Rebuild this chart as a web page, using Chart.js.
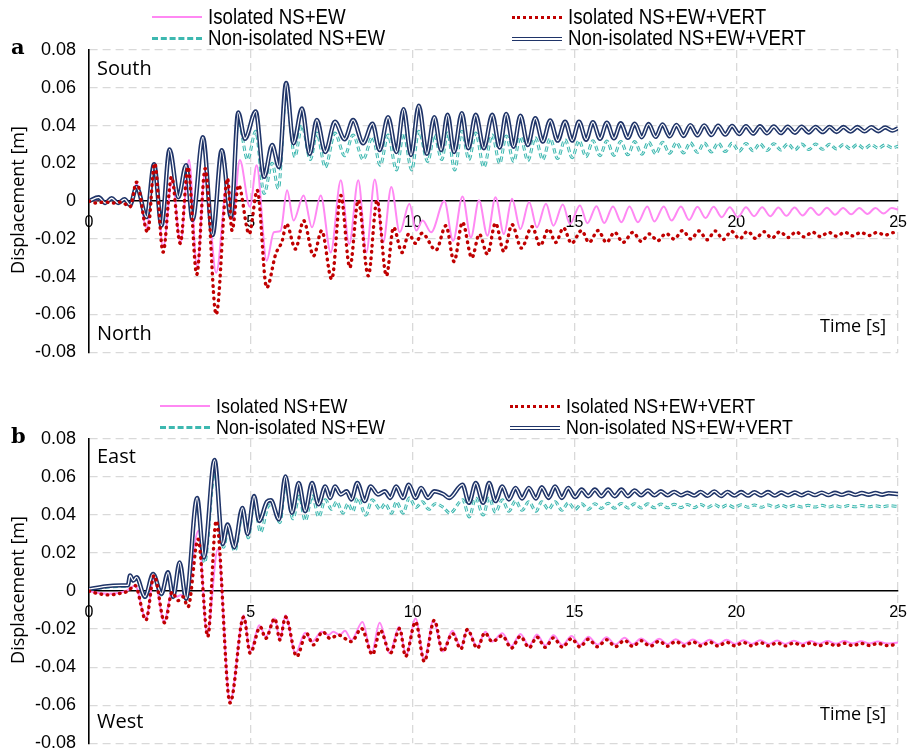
<!DOCTYPE html>
<html>
<head>
<meta charset="utf-8">
<script src="https://cdn.jsdelivr.net/npm/chart.js@4.4.1/dist/chart.umd.min.js"></script>
<style>
  body { margin: 0; background: #fff; }
  #page { position: relative; width: 919px; height: 751px; overflow: hidden; font-family: "Liberation Sans", Arial, sans-serif; }
  canvas { position: absolute; left: 0; }
  .txt { position: absolute; white-space: nowrap; color: #000; }
  .leg { position: absolute; white-space: nowrap; font-size: 22px; transform: scaleX(0.85); transform-origin: left center; line-height: 22px; }
  .swatch { position: absolute; width: 50px; height: 0; }
  .corner { font-family: "Open Sans", sans-serif; font-size: 20px; }
  .letter { font-family: "DejaVu Serif", serif; font-weight: bold; font-size: 21px; }
  .ytitle { font-family: "Open Sans", sans-serif; font-size: 18px; transform: rotate(-90deg); transform-origin: center; width: 180px; text-align: center; }
</style>
</head>
<body>
<div id="page">
  <canvas id="chartA" width="919" height="376" style="top:0"></canvas>
  <canvas id="chartB" width="919" height="387" style="top:380px"></canvas>

  <div class="txt letter" style="left:11px;top:34px">a</div>
  <div class="txt letter" style="left:11px;top:423px">b</div>

  <div class="txt ytitle" style="left:-73px;top:188px">Displacement [m]</div>
  <div class="txt ytitle" style="left:-73px;top:578px">Displacement [m]</div>

  <div class="txt corner" style="left:97px;top:54px">South</div>
  <div class="txt corner" style="left:97px;top:319px">North</div>
  <div class="txt corner" style="left:820px;top:313px;font-size:18px">Time [s]</div>
  <div class="txt corner" style="left:97px;top:442px">East</div>
  <div class="txt corner" style="left:97px;top:707px">West</div>
  <div class="txt corner" style="left:820px;top:701px;font-size:18px">Time [s]</div>

  <div id="legendA"></div>
  <div id="legendB"></div>
</div>

<script>
// series names (legend order)
const seriesNames = ['Isolated NS+EW', 'Isolated NS+EW+VERT', 'Non-isolated NS+EW', 'Non-isolated NS+EW+VERT'];

// axis ticks
const xTicks = [0, 5, 10, 15, 20, 25];
const yTicks = [-0.08, -0.06, -0.04, -0.02, 0, 0.02, 0.04, 0.06, 0.08];

// ---- panel a : [time s, displacement m] ----
const aIsoEW = [
  [0,0],[0.3,0.001],[0.5,-0.001],[0.7,0.001],[0.9,-0.001],[1.1,0.0005],[1.27,-0.002],[1.47,0.009],[1.78,-0.014],
  [2.03,0.02],[2.29,-0.0245],[2.57,0.011],[2.83,-0.022],[3.09,0.0217],[3.34,-0.035],[3.59,0.016],[3.93,-0.038],
  [4.28,0.011],[4.44,-0.01],[4.66,0.0217],[4.97,-0.003],[5.18,0.019],[5.49,-0.0316],[5.71,-0.0165],[5.92,-0.0157],
  [6.12,0.0057],[6.32,-0.0103],[6.63,0.003],[6.89,-0.0139],[7.16,0.003],[7.47,-0.0272],[7.78,0.011],[8.04,-0.0228],
  [8.32,0.011],[8.57,-0.0272],[8.83,0.0114],[9.09,-0.0219],[9.34,0.0075],[9.6,-0.0165],[9.9,-0.0014],[10.11,-0.0156],
  [10.31,-0.0103],[10.57,-0.0165],[10.98,0.0],[11.25,-0.021],[11.54,0.0025],[11.8,-0.0192],[12.05,0.0004],[12.31,-0.0183],
  [12.56,0.0021],[12.82,-0.0174],[13.07,0.0012],[13.33,-0.0148],[13.6,-0.0005],[13.84,-0.0139],[14.12,-0.0014],[14.35,-0.013],
  [14.64,-0.0018],[14.86,-0.0121],[15.17,-0.0023],[15.4,-0.0117],[15.68,-0.0027],[15.92,-0.0116],[16.19,-0.0028],[16.45,-0.0112],
  [16.7,-0.0028],[16.96,-0.0112],[17.25,-0.0028],[17.47,-0.0108],[17.76,-0.0028],[18.0,-0.0103],[18.29,-0.0028],[18.54,-0.01],
  [18.8,-0.003],[19.05,-0.009],[19.3,-0.003],[19.55,-0.0085],[19.8,-0.0032],[20.05,-0.0085],[20.3,-0.0033],[20.55,-0.008],
  [20.8,-0.0033],[21.05,-0.008],[21.3,-0.0034],[21.55,-0.0078],[21.8,-0.0034],[22.05,-0.0076],[22.3,-0.0035],[22.55,-0.0074],
  [22.8,-0.0035],[23.05,-0.0072],[23.3,-0.0036],[23.55,-0.007],[23.8,-0.0036],[24.05,-0.0068],[24.3,-0.0037],[24.55,-0.0066],
  [24.8,-0.0037],[25,-0.0045]
];
const aIsoVert = [
  [0,0],[0.2,-0.001],[0.5,-0.0005],[0.8,-0.001],[1.0,-0.0005],[1.27,-0.003],[1.47,0.01],[1.81,-0.0165],[2.03,0.02],
  [2.29,-0.027],[2.55,0.0128],[2.82,-0.0224],[3.06,0.018],[3.33,-0.0388],[3.59,0.0172],[3.93,-0.06],[4.28,0.0119],
  [4.42,-0.0156],[4.62,0.0084],[4.95,-0.0174],[5.2,0.0057],[5.49,-0.0459],[5.77,-0.028],[5.97,-0.021],[6.1,-0.012],
  [6.38,-0.0254],[6.63,-0.0103],[6.94,-0.029],[7.19,-0.0156],[7.5,-0.0414],[7.78,0.003],[8.06,-0.0352],[8.32,0.0004],
  [8.63,-0.0396],[8.9,0.0004],[9.19,-0.0396],[9.41,-0.0139],[9.67,-0.0272],[9.88,-0.0174],[10.09,-0.0224],[10.29,-0.017],
  [10.72,-0.026],[11.03,-0.013],[11.28,-0.032],[11.54,-0.0112],[11.83,-0.03],[12.06,-0.0175],[12.31,-0.0281],[12.56,-0.0117],
  [12.82,-0.0267],[13.07,-0.0124],[13.36,-0.0249],[13.69,-0.0135],[13.94,-0.0236],[14.2,-0.0148],[14.42,-0.0219],[14.66,-0.0142],
  [14.91,-0.0224],[15.22,-0.0156],[15.45,-0.0219],[15.73,-0.0156],[15.99,-0.0219],[16.24,-0.0165],[16.5,-0.0219],[16.81,-0.0165],
  [17.06,-0.0213],[17.32,-0.0174],[17.57,-0.021],[17.83,-0.0171],[18.08,-0.0201],[18.34,-0.0156],[18.6,-0.0201],[18.85,-0.0158],
  [19.1,-0.0205],[19.35,-0.0158],[19.6,-0.0203],[19.85,-0.016],[20.1,-0.02],[20.35,-0.016],[20.6,-0.0198],[20.85,-0.0162],
  [21.1,-0.0196],[21.35,-0.0162],[21.6,-0.0193],[21.85,-0.0163],[22.1,-0.019],[22.35,-0.0164],[22.6,-0.0188],[22.85,-0.0165],
  [23.1,-0.0186],[23.35,-0.0165],[23.6,-0.0184],[23.85,-0.0166],[24.1,-0.0182],[24.35,-0.0166],[24.6,-0.018],[24.85,-0.0167],
  [25,-0.017]
];
const aNonEW = [
  [0,0],[0.3,0.0015],[0.5,-0.001],[0.7,0.0012],[0.9,-0.001],[1.1,0.001],[1.27,-0.002],[1.47,0.0075],[1.78,-0.008],
  [2.01,0.019],[2.24,-0.012],[2.49,0.026],[2.76,0.002],[3.0,0.018],[3.2,-0.009],[3.52,0.032],[3.82,-0.017],[4.1,0.026],
  [4.39,-0.008],[4.61,0.043],[4.9,0.022],[5.15,0.037],[5.41,0.004],[5.66,0.02],[5.85,0.0066],[6.09,0.057],[6.36,0.0235],
  [6.58,0.04],[6.84,0.022],[7.04,0.036],[7.3,0.018],[7.6,0.036],[7.9,0.024],[8.16,0.035],[8.47,0.022],[8.76,0.034],
  [9.0,0.019],[9.24,0.035],[9.5,0.0165],[9.72,0.036],[9.97,0.0165],[10.19,0.037],[10.47,0.021],[10.67,0.035],[10.9,0.022],
  [11.08,0.036],[11.3,0.0165],[11.52,0.037],[11.74,0.022],[11.95,0.036],[12.2,0.018],[12.46,0.035],[12.69,0.02],
  [12.89,0.0345],[13.12,0.021],[13.33,0.034],[13.56,0.0215],[13.79,0.0335],[14.02,0.022],[14.25,0.033],[14.48,0.0225],
  [14.71,0.0325],[14.93,0.023],[15.14,0.032],[15.36,0.0235],[15.57,0.032],[15.79,0.024],[16.0,0.0318],[16.22,0.0242],
  [16.43,0.0316],[16.65,0.0245],[16.86,0.0315],[17.08,0.0248],[17.29,0.0313],[17.51,0.025],[17.72,0.0312],[17.94,0.0253],
  [18.15,0.031],[18.37,0.0255],[18.58,0.0309],[18.8,0.0258],[19.01,0.0308],[19.23,0.026],[19.44,0.0307],[19.66,0.0262],
  [19.87,0.0306],[20.09,0.0264],[20.3,0.0305],[20.52,0.0266],[20.73,0.0304],[20.95,0.0268],[21.16,0.0304],[21.38,0.027],
  [21.59,0.0303],[21.81,0.0271],[22.02,0.0302],[22.24,0.0273],[22.45,0.0302],[22.67,0.0274],[22.88,0.0301],[23.1,0.0276],
  [23.31,0.03],[23.53,0.0277],[23.74,0.03],[23.96,0.0278],[24.17,0.0299],[24.39,0.028],[24.6,0.0298],[24.82,0.0282],[25,0.029]
];
const aNonVert = [
  [0,0],[0.3,0.002],[0.5,-0.001],[0.7,0.0015],[0.9,-0.001],[1.1,0.001],[1.27,-0.002],[1.47,0.0075],[1.78,-0.0085],
  [2.01,0.0196],[2.24,-0.013],[2.49,0.0274],[2.76,0.002],[3.0,0.019],[3.2,-0.01],[3.52,0.0338],[3.82,-0.018],[4.1,0.027],
  [4.39,-0.0085],[4.61,0.047],[4.82,0.033],[5.15,0.0475],[5.41,0.0128],[5.66,0.0297],[5.87,0.018],[6.09,0.0626],
  [6.32,0.0306],[6.58,0.049],[6.82,0.025],[7.04,0.043],[7.3,0.026],[7.6,0.042],[7.9,0.0327],[8.16,0.043],[8.47,0.0306],
  [8.76,0.041],[8.98,0.027],[9.24,0.0444],[9.5,0.026],[9.72,0.0487],[9.95,0.0244],[10.19,0.0505],[10.44,0.025],
  [10.67,0.0444],[10.88,0.027],[11.08,0.0457],[11.28,0.026],[11.52,0.0466],[11.72,0.028],[11.95,0.0457],[12.2,0.028],
  [12.46,0.0457],[12.69,0.0284],[12.89,0.0462],[13.12,0.0288],[13.33,0.0452],[13.56,0.0297],[13.79,0.0439],[14.02,0.0315],
  [14.25,0.0427],[14.48,0.032],[14.71,0.0421],[14.93,0.032],[15.14,0.042],[15.36,0.0325],[15.57,0.0418],[15.79,0.033],
  [16.0,0.0415],[16.22,0.0332],[16.43,0.0412],[16.65,0.0335],[16.86,0.041],[17.08,0.0338],[17.29,0.0408],[17.51,0.034],
  [17.72,0.0406],[17.94,0.0343],[18.15,0.0403],[18.37,0.0345],[18.58,0.0402],[18.8,0.0348],[19.01,0.0401],[19.23,0.035],
  [19.44,0.0399],[19.66,0.0352],[19.87,0.0398],[20.09,0.0355],[20.3,0.0397],[20.52,0.0357],[20.73,0.0396],[20.95,0.0359],
  [21.16,0.0395],[21.38,0.036],[21.59,0.0394],[21.81,0.0362],[22.02,0.0394],[22.24,0.0363],[22.45,0.0393],[22.67,0.0365],
  [22.88,0.0393],[23.1,0.0366],[23.31,0.0392],[23.53,0.0368],[23.74,0.0392],[23.96,0.0369],[24.17,0.0391],[24.39,0.037],
  [24.6,0.039],[24.82,0.0373],[25,0.0386]
];

// ---- panel b ----
const bIsoEW = [
  [0,0],[0.3,-0.001],[0.6,-0.0014],[0.9,-0.001],[1.2,0.0005],[1.42,0.003],[1.76,-0.0144],[2.01,0.0073],[2.32,-0.016],
  [2.57,0.0003],[2.7,-0.003],[2.85,-0.002],[3.0,-0.0045],[3.38,0.0317],[3.65,-0.023],[3.98,0.022],[4.36,-0.058],
  [4.78,-0.0127],[4.98,-0.0318],[5.26,-0.0179],[5.46,-0.024],[5.74,-0.0144],[5.9,-0.0257],[6.07,-0.0127],[6.38,-0.0327],
  [6.68,-0.0219],[6.89,-0.0266],[7.19,-0.0214],[7.4,-0.0231],[7.55,-0.0214],[7.75,-0.023],[7.91,-0.0209],[8.11,-0.0257],
  [8.45,-0.0162],[8.73,-0.0327],[8.98,-0.0167],[9.29,-0.0327],[9.58,-0.0188],[9.8,-0.0336],[10.09,-0.0144],[10.36,-0.0362],
  [10.64,-0.0153],[10.93,-0.0318],[11.23,-0.0209],[11.49,-0.0296],[11.69,-0.0202],[12.0,-0.0292],[12.25,-0.0214],[12.46,-0.0266],
  [12.77,-0.0222],[13.05,-0.029],[13.33,-0.0225],[13.6,-0.0288],[13.84,-0.0228],[14.1,-0.0286],[14.35,-0.0232],[14.63,-0.0284],
  [14.91,-0.0236],[15.17,-0.0283],[15.43,-0.024],[15.71,-0.0282],[15.99,-0.0243],[16.27,-0.0281],[16.55,-0.0246],[16.8,-0.028],
  [17.06,-0.0249],[17.34,-0.0279],[17.62,-0.0251],[17.87,-0.0279],[18.13,-0.0253],[18.4,-0.0278],[18.66,-0.0255],[18.92,-0.0278],
  [19.18,-0.0256],[19.44,-0.0279],[19.7,-0.0256],[19.96,-0.0278],[20.22,-0.0258],[20.48,-0.0278],[20.74,-0.0259],[21.0,-0.0278],
  [21.26,-0.026],[21.52,-0.0278],[21.78,-0.0261],[22.04,-0.0277],[22.3,-0.0262],[22.56,-0.0277],[22.82,-0.0263],[23.08,-0.0277],
  [23.34,-0.0263],[23.6,-0.0276],[23.86,-0.0264],[24.12,-0.0276],[24.38,-0.0265],[24.64,-0.0276],[25,-0.027]
];
const bIsoVert = [
  [0,0],[0.3,-0.0014],[0.6,-0.002],[0.9,-0.0014],[1.2,0.0],[1.42,0.003],[1.76,-0.0153],[2.01,0.0082],[2.34,-0.0167],
  [2.57,-0.0005],[2.75,-0.005],[2.9,-0.003],[3.06,-0.0083],[3.37,0.0273],[3.67,-0.024],[3.93,0.0369],[4.36,-0.0588],
  [4.78,-0.0136],[4.98,-0.0327],[5.29,-0.0188],[5.46,-0.0249],[5.74,-0.0144],[5.9,-0.0257],[6.07,-0.0136],[6.42,-0.0344],
  [6.72,-0.0223],[6.93,-0.0283],[7.22,-0.0214],[7.45,-0.0249],[7.7,-0.0231],[8.11,-0.0266],[8.42,-0.0197],[8.76,-0.0334],
  [9.0,-0.0206],[9.31,-0.0327],[9.6,-0.0197],[9.78,-0.0344],[10.09,-0.0162],[10.36,-0.037],[10.67,-0.0153],[10.93,-0.0318],
  [11.23,-0.0223],[11.49,-0.0305],[11.69,-0.0202],[12.0,-0.0301],[12.23,-0.0219],[12.46,-0.0266],[12.77,-0.0235],[13.05,-0.03],
  [13.33,-0.0238],[13.6,-0.0298],[13.84,-0.0242],[14.1,-0.0296],[14.35,-0.0246],[14.63,-0.0295],[14.91,-0.025],[15.17,-0.0294],
  [15.43,-0.0253],[15.71,-0.0293],[15.99,-0.0256],[16.27,-0.0292],[16.55,-0.0259],[16.8,-0.0291],[17.06,-0.0261],[17.34,-0.029],
  [17.62,-0.0263],[17.87,-0.029],[18.13,-0.0265],[18.4,-0.0289],[18.66,-0.0267],[18.92,-0.0289],[19.18,-0.0268],[19.44,-0.0289],
  [19.7,-0.0269],[19.96,-0.0288],[20.22,-0.027],[20.48,-0.0288],[20.74,-0.0271],[21.0,-0.0288],[21.26,-0.0272],[21.52,-0.0288],
  [21.78,-0.0273],[22.04,-0.0287],[22.3,-0.0273],[22.56,-0.0287],[22.82,-0.0274],[23.08,-0.0287],[23.34,-0.0274],[23.6,-0.0287],
  [23.86,-0.0275],[24.12,-0.0286],[24.38,-0.0275],[24.64,-0.0286],[25,-0.028]
];
const bNonEW = [
  [0,0.0008],[0.5,0.002],[1.0,0.0025],[1.2,0.0025],[1.27,0.0075],[1.37,0.005],[1.47,0.007],[1.73,-0.0035],[1.98,0.0085],
  [2.24,-0.002],[2.44,0.0095],[2.6,-0.0035],[2.8,0.0145],[3.0,-0.0045],[3.34,0.046],[3.57,0.015],[3.88,0.062],[4.16,0.023],
  [4.3,0.033],[4.5,0.021],[4.76,0.042],[4.92,0.028],[5.1,0.047],[5.3,0.031],[5.55,0.045],[5.65,0.0455],[5.9,0.036],
  [6.07,0.056],[6.3,0.038],[6.5,0.05],[6.68,0.037],[6.9,0.05],[7.1,0.039],[7.3,0.048],[7.5,0.043],[7.65,0.047],
  [7.85,0.041],[8.0,0.046],[8.15,0.042],[8.3,0.049],[8.55,0.04],[8.75,0.048],[9.0,0.043],[9.15,0.046],[9.35,0.041],
  [9.5,0.047],[9.7,0.041],[9.9,0.049],[10.1,0.044],[10.3,0.047],[10.5,0.043],[10.7,0.046],[10.95,0.044],[11.15,0.041],
  [11.55,0.048],[11.75,0.039],[11.95,0.049],[12.18,0.04],[12.36,0.049],[12.56,0.0415],[12.77,0.048],[12.97,0.042],
  [13.18,0.0475],[13.38,0.0425],[13.59,0.047],[13.81,0.042],[13.99,0.047],[14.2,0.043],[14.4,0.047],[14.61,0.0425],
  [14.81,0.0465],[15.02,0.043],[15.22,0.046],[15.43,0.043],[15.63,0.046],[15.83,0.0435],[16.04,0.0462],[16.24,0.0436],
  [16.45,0.0461],[16.65,0.0437],[16.86,0.046],[17.06,0.0437],[17.27,0.0459],[17.47,0.0438],[17.67,0.0458],[17.88,0.0438],
  [18.08,0.0457],[18.29,0.0439],[18.49,0.0456],[18.7,0.0439],[18.9,0.0456],[19.11,0.044],[19.32,0.0455],[19.53,0.044],
  [19.73,0.0454],[19.94,0.044],[20.15,0.0454],[20.36,0.0441],[20.56,0.0453],[20.77,0.0441],[20.98,0.0453],[21.19,0.0441],
  [21.39,0.0452],[21.6,0.0441],[21.81,0.0452],[22.02,0.0442],[22.22,0.0451],[22.43,0.0442],[22.64,0.0451],[22.85,0.0442],
  [23.05,0.045],[23.26,0.0442],[23.47,0.045],[23.68,0.0443],[23.88,0.045],[24.09,0.0443],[24.3,0.0449],[24.51,0.0443],
  [24.71,0.0449],[25,0.0445]
];
const bNonVert = [
  [0,0.001],[0.5,0.0025],[1.0,0.003],[1.2,0.003],[1.27,0.0082],[1.37,0.0055],[1.47,0.0073],[1.73,-0.003],[1.98,0.009],
  [2.24,-0.0014],[2.44,0.0099],[2.6,-0.003],[2.8,0.0151],[3.0,-0.004],[3.34,0.049],[3.55,0.0177],[3.88,0.069],[4.13,0.0247],
  [4.28,0.035],[4.49,0.023],[4.74,0.0438],[4.9,0.03],[5.1,0.05],[5.26,0.0369],[5.5,0.047],[5.62,0.0478],[5.87,0.0377],
  [6.07,0.0603],[6.27,0.0412],[6.48,0.0569],[6.68,0.042],[6.89,0.0569],[7.09,0.0456],[7.3,0.0551],[7.45,0.049],[7.6,0.0551],
  [7.78,0.0508],[7.96,0.0525],[8.11,0.0482],[8.29,0.0569],[8.52,0.0473],[8.7,0.0551],[8.93,0.0508],[9.14,0.0525],[9.31,0.049],
  [9.49,0.0551],[9.7,0.049],[9.88,0.056],[10.09,0.049],[10.26,0.0543],[10.47,0.049],[10.67,0.0525],[10.95,0.051],[11.13,0.049],
  [11.54,0.056],[11.74,0.0464],[11.95,0.0569],[12.18,0.0464],[12.36,0.0569],[12.56,0.0473],[12.77,0.0551],[12.97,0.0482],
  [13.18,0.0543],[13.38,0.0487],[13.59,0.0543],[13.81,0.0487],[13.99,0.0546],[14.2,0.049],[14.4,0.0551],[14.61,0.049],
  [14.81,0.0543],[15.02,0.0494],[15.22,0.0534],[15.43,0.0499],[15.63,0.0534],[15.83,0.0499],[16.04,0.0534],[16.24,0.0499],
  [16.45,0.0534],[16.65,0.0499],[16.86,0.0529],[17.06,0.0504],[17.27,0.0529],[17.47,0.0504],[17.67,0.0525],[17.88,0.0504],
  [18.08,0.0522],[18.29,0.0504],[18.49,0.0517],[18.7,0.0502],[18.9,0.0522],[19.11,0.0501],[19.32,0.0524],[19.53,0.05],
  [19.73,0.0522],[19.94,0.0502],[20.15,0.0521],[20.36,0.0502],[20.56,0.052],[20.77,0.0503],[20.98,0.0521],[21.19,0.0502],
  [21.39,0.0519],[21.6,0.0504],[21.81,0.0519],[22.02,0.0504],[22.22,0.0518],[22.43,0.0505],[22.64,0.0518],[22.85,0.0505],
  [23.05,0.0517],[23.26,0.0506],[23.47,0.0517],[23.68,0.0506],[23.88,0.0516],[24.09,0.0507],[24.3,0.0516],[24.51,0.0507],
  [24.71,0.0515],[25,0.051]
];

const PINK = '#FF88F3';
const RED = '#C00000';
const TEAL = '#3DB8B0';
const NAVY = '#1F3468';
const GRID = '#d9d9d9';

const toXY = arr => arr.map(p => ({ x: p[0], y: p[1] }));

function makeDatasets(iso, isoV, non, nonV) {
  return [
    { label: seriesNames[1], data: toXY(isoV), borderColor: RED, borderWidth: 3.4, borderDash: [0.6, 5.6], borderCapStyle: 'round', order: 0 },
    { label: seriesNames[3] + ' inner', data: toXY(nonV), borderColor: '#ffffff', borderWidth: 1.3, order: 1 },
    { label: seriesNames[3], data: toXY(nonV), borderColor: NAVY, borderWidth: 4.4, order: 2 },
    { label: seriesNames[2] + ' inner', data: toXY(non), borderColor: '#ffffff', borderWidth: 0.9, borderDash: [5, 3], order: 3 },
    { label: seriesNames[2], data: toXY(non), borderColor: TEAL, borderWidth: 3, borderDash: [5, 3], order: 4 },
    { label: seriesNames[0], data: toXY(iso), borderColor: PINK, borderWidth: 2, order: 5 }
  ];
}

const hideAtZero = c => (c.tick && Math.abs(c.tick.value) < 1e-9) ? 'rgba(0,0,0,0)' : GRID;

function makeOptions(padTop, padBottom) {
  return {
    responsive: false,
    animation: false,
    layout: { padding: { top: padTop, bottom: padBottom, left: 0, right: 15 } },
    plugins: { legend: { display: false }, tooltip: { enabled: false } },
    elements: {
      point: { radius: 0 },
      line: { cubicInterpolationMode: 'monotone', fill: false }
    },
    scales: {
      x: {
        type: 'linear',
        position: { y: 0 },
        min: 0, max: 25,
        afterBuildTicks: s => { s.ticks = xTicks.map(v => ({ value: v })); },
        afterFit: s => { s.height = 0; },
        grid: { color: hideAtZero, lineWidth: 1.3, drawTicks: false },
        border: { display: true, color: '#000', width: 1.6, dash: [8, 5] },
        ticks: { padding: 12, color: '#000', maxRotation: 0, autoSkip: false,
                 font: { family: 'Liberation Sans', size: 16 } }
      },
      y: {
        type: 'linear',
        min: -0.08, max: 0.08,
        afterBuildTicks: s => { s.ticks = yTicks.map(v => ({ value: v })); },
        afterFit: s => { s.width = 89; },
        grid: { color: hideAtZero, lineWidth: 1.3, drawTicks: false },
        border: { display: true, color: '#000', width: 1.6, dash: [8, 5] },
        ticks: { padding: 13, color: '#000',
                 font: { family: 'Liberation Sans', size: 18 },
                 callback: v => Math.abs(v) < 1e-9 ? '0' : v.toFixed(2) }
      }
    }
  };
}

new Chart(document.getElementById('chartA'), {
  type: 'line',
  data: { datasets: makeDatasets(aIsoEW, aIsoVert, aNonEW, aNonVert) },
  options: makeOptions(50, 19)
});

new Chart(document.getElementById('chartB'), {
  type: 'line',
  data: { datasets: makeDatasets(bIsoEW, bIsoVert, bNonEW, bNonVert) },
  options: makeOptions(59, 9)
});

// legend rows, built as html
const swatchStyles = [
  'border-top: 2px solid ' + PINK,
  'border-top: 3px dotted ' + RED,
  'border-top: 3px dashed ' + TEAL,
  'border-top: 4px double ' + NAVY
];

function buildLegend(holder, rows, textLeft, swatchLeft, size) {
  const spots = [[0, 0], [0, 1], [1, 0], [1, 1]];
  seriesNames.forEach((name, i) => {
    const [r, c] = spots[i];
    const sw = document.createElement('div');
    sw.className = 'swatch';
    sw.style.cssText = swatchStyles[i] + ';left:' + swatchLeft[c] + 'px;top:' + (rows[r] - 1) + 'px';
    holder.appendChild(sw);
    const t = document.createElement('div');
    t.className = 'leg';
    t.textContent = name;
    t.style.left = textLeft[c] + 'px';
    t.style.top = (rows[r] - 11) + 'px';
    t.style.fontSize = size + 'px';
    holder.appendChild(t);
  });
}

buildLegend(document.getElementById('legendA'), [17, 38], [208, 568], [152, 512], 22);
buildLegend(document.getElementById('legendB'), [406, 427], [216, 566], [160, 510], 21);
</script>
</body>
</html>
